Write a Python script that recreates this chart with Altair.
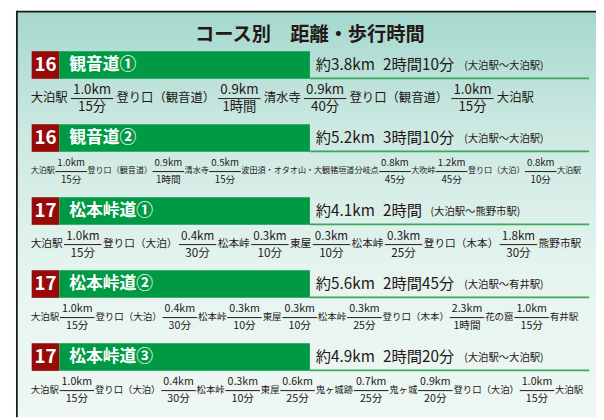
import altair as alt
import pandas as pd

# ---------------- data ----------------
title_text = "コース別　距離・歩行時間"
course_nums = ["16", "16", "17", "17", "17"]
course_names = ["観音道①", "観音道②", "松本峠道①", "松本峠道②", "松本峠道③"]
distances = ["約3.8km", "約5.2km", "約4.1km", "約5.6km", "約4.9km"]
times = ["2時間10分", "3時間10分", "2時間", "2時間45分", "2時間20分"]
spans = ["(大泊駅～大泊駅)", "(大泊駅～大泊駅)", "(大泊駅～熊野市駅)",
         "(大泊駅～有井駅)", "(大泊駅～大泊駅)"]

stations_1 = ["大泊駅", "登り口（観音道）", "清水寺", "登り口（観音道）", "大泊駅"]
seg_km_1 = ["1.0km", "0.9km", "0.9km", "1.0km"]
seg_time_1 = ["15分", "1時間", "40分", "15分"]

stations_2 = ["大泊駅", "登り口（観音道）", "清水寺", "波田須・オタオ山・大観猪垣道分岐点",
              "大吹峠", "登り口（大泊）", "大泊駅"]
seg_km_2 = ["1.0km", "0.9km", "0.5km", "0.8km", "1.2km", "0.8km"]
seg_time_2 = ["15分", "1時間", "15分", "45分", "45分", "10分"]

stations_3 = ["大泊駅", "登り口（大泊）", "松本峠", "東屋", "松本峠", "登り口（木本）", "熊野市駅"]
seg_km_3 = ["1.0km", "0.4km", "0.3km", "0.3km", "0.3km", "1.8km"]
seg_time_3 = ["15分", "30分", "10分", "10分", "25分", "30分"]

stations_4 = ["大泊駅", "登り口（大泊）", "松本峠", "東屋", "松本峠", "登り口（木本）", "花の窟", "有井駅"]
seg_km_4 = ["1.0km", "0.4km", "0.3km", "0.3km", "0.3km", "2.3km", "1.0km"]
seg_time_4 = ["15分", "30分", "10分", "10分", "25分", "1時間", "15分"]

stations_5 = ["大泊駅", "登り口（大泊）", "松本峠", "東屋", "鬼ヶ城跡", "鬼ヶ城", "登り口（大泊）", "大泊駅"]
seg_km_5 = ["1.0km", "0.4km", "0.3km", "0.6km", "0.7km", "0.9km", "1.0km"]
seg_time_5 = ["15分", "30分", "10分", "25分", "25分", "20分", "15分"]

routes = [(stations_1, seg_km_1, seg_time_1), (stations_2, seg_km_2, seg_time_2),
          (stations_3, seg_km_3, seg_time_3), (stations_4, seg_km_4, seg_time_4),
          (stations_5, seg_km_5, seg_time_5)]

# ---------------- layout / style ----------------
W, H = 596, 412
X0, Y0 = 8, 8
FONT = "Noto Sans CJK JP"
DARK = "#231815"
RED = "#970a0a"
GREEN = "#009a44"
LINE_GREEN = "#3aa860"

FRAME_L = 17
SEC_TOP0 = 49
SEC_STEP = 74
BAR_H = 28
RED_X = (32, 60)
GREEN_X = (60, 314)
UNDER_END = 597
DIST_X = 320
TIME_X = 388
ROW_START = 31
row_end = [541, 589, 589, 586, 591]
row_fs = [(12.5, 13.5), (8.2, 9.8), (10.8, 11.8), (9.6, 10.8), (9.5, 10.8)]


def text_w(s, fs):
    w = 0.0
    for ch in s:
        if ch.isdigit():
            w += 0.6
        elif ch == ".":
            w += 0.3
        elif ch == "k":
            w += 0.56
        elif ch == "m":
            w += 0.9
        elif ch in "()":
            w += 0.36
        elif ord(ch) < 128:
            w += 0.6
        else:
            w += 1.0
    return w * fs


texts_c, texts_l, texts_b, rects, rules = [], [], [], [], []

# title
texts_b.append(dict(x=314, y=33, t=title_text, s=19.5, c=DARK, a="center"))

for i in range(5):
    T = SEC_TOP0 + i * SEC_STEP
    rects.append(dict(x=RED_X[0], x2=RED_X[1], y=T, y2=T + BAR_H, c=RED))
    rects.append(dict(x=GREEN_X[0], x2=GREEN_X[1], y=T, y2=T + BAR_H, c=GREEN))
    rules.append(dict(x=GREEN_X[1], x2=UNDER_END, y=T + BAR_H - 0.5, c=LINE_GREEN, w=1.6))
    texts_b.append(dict(x=(RED_X[0] + RED_X[1]) / 2, y=T + 14.5, t=course_nums[i], s=19, c="white", a="center"))
    texts_b.append(dict(x=70, y=T + 14, t=course_names[i], s=17, c="white", a="left"))
    texts_l.append(dict(x=DIST_X, y=T + 14.5, t=distances[i], s=15.5, c=DARK))
    texts_l.append(dict(x=TIME_X, y=T + 14.5, t=times[i], s=15.5, c=DARK))
    texts_l.append(dict(x=TIME_X + text_w(times[i], 15.5) + 8, y=T + 15, t=spans[i], s=10.5, c=DARK))

    st, km, tm = routes[i]
    fs_s, fs_f = row_fs[i]
    items = []
    for j, name in enumerate(st):
        items.append(("s", name, None, text_w(name, fs_s)))
        if j < len(km):
            fw = max(text_w(km[j], fs_f), text_w(tm[j], fs_f)) + 3
            items.append(("f", km[j], tm[j], fw))
    total = sum(it[3] for it in items)
    gap = (row_end[i] - ROW_START - total) / (len(items) - 1)
    cur = ROW_START
    for kind, a, b, w in items:
        cx = cur + w / 2
        if kind == "s":
            texts_c.append(dict(x=cx, y=T + 47.5, t=a, s=fs_s, c=DARK))
        else:
            texts_c.append(dict(x=cx, y=T + 39.5, t=a, s=fs_f, c=DARK))
            texts_c.append(dict(x=cx, y=T + 57, t=b, s=fs_f, c=DARK))
            rules.append(dict(x=cur, x2=cur + w, y=T + 48, c=DARK, w=1))
        cur += w + gap

xs = alt.Scale(domain=[X0, X0 + W], nice=False, zero=False)
ys = alt.Scale(domain=[Y0, Y0 + H], nice=False, zero=False, reverse=True)

X = lambda f="x": alt.X(f"{f}:Q", scale=xs, axis=None)
Y = lambda f="y": alt.Y(f"{f}:Q", scale=ys, axis=None)

grad = alt.Gradient(
    gradient="linear",
    stops=[alt.GradientStop(color="#a5d8ce", offset=0),
           alt.GradientStop(color="#cde9e2", offset=0.3),
           alt.GradientStop(color="#e6f4ef", offset=0.65),
           alt.GradientStop(color="#eef7f3", offset=1)],
    x1=0, x2=0, y1=0, y2=1,
)

bg = alt.Chart(pd.DataFrame([dict(x=FRAME_L, x2=X0 + W, y=Y0 + 1, y2=Y0 + H)])).mark_rect(fill=grad).encode(
    x=X(), x2="x2:Q", y=Y(), y2="y2:Q")

frame = alt.Chart(pd.DataFrame([dict(x=FRAME_L, x2=X0 + W, y=Y0 + 0.8, y2=Y0 + 0.8),
                                dict(x=FRAME_L, x2=FRAME_L, y=Y0, y2=Y0 + H)])).mark_rule(
    color="#1a1a1a", strokeWidth=1.8).encode(x=X(), x2="x2:Q", y=Y(), y2="y2:Q")

rect_layer = alt.Chart(pd.DataFrame(rects)).mark_rect().encode(
    x=X(), x2="x2:Q", y=Y(), y2="y2:Q", color=alt.Color("c:N", scale=None))

rule_layer = alt.Chart(pd.DataFrame(rules)).mark_rule().encode(
    x=X(), x2="x2:Q", y=Y(), color=alt.Color("c:N", scale=None),
    strokeWidth=alt.StrokeWidth("w:Q", scale=None))


def text_layer(rows, align, weight="normal"):
    return alt.Chart(pd.DataFrame(rows)).mark_text(
        font=FONT, align=align, baseline="middle", fontWeight=weight).encode(
        x=X(), y=Y(), text="t:N", size=alt.Size("s:Q", scale=None),
        color=alt.Color("c:N", scale=None))


bold_c = [r for r in texts_b if r["a"] == "center"]
bold_l = [r for r in texts_b if r["a"] == "left"]

chart = alt.layer(
    bg, frame, rect_layer, rule_layer,
    text_layer(texts_c, "center"),
    text_layer(texts_l, "left"),
    text_layer(bold_c, "center", "bold"),
    text_layer(bold_l, "left", "bold"),
).properties(
    width=W, height=H, padding=0,
    autosize=alt.AutoSizeParams(type="none"),
    background="white",
).configure_view(stroke=None)

chart.save("out.html", embed_options={"renderer": "svg", "actions": False})
